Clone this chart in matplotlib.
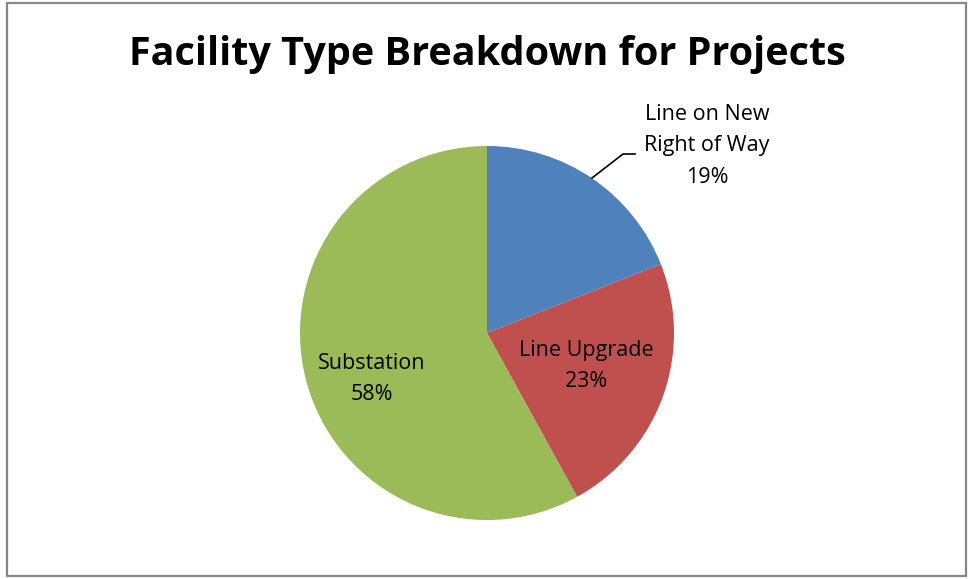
import matplotlib.pyplot as plt
from matplotlib.patches import Rectangle

# facility types and their share of projects (%)
categories = ["Line on New\nRight of Way", "Line Upgrade", "Substation"]
shares = [19, 23, 58]
colors = ["#4F81BD", "#C0504D", "#9BBB59"]

W, H = 969, 579
fig = plt.figure(figsize=(W / 100, H / 100), dpi=100)
plt.rcParams["font.family"] = ["Open Sans", "DejaVu Sans"]

# gray frame around the whole chart
fig.patches.append(Rectangle((7 / W, 3 / H), 959 / W, 573 / H, transform=fig.transFigure,
                             fill=False, edgecolor="#878787", linewidth=1.6))

# pie centred at (487, 333) px with radius 187 px
cx, cy, r = 487, 333, 187
ax = fig.add_axes([(cx - r) / W, (H - cy - r) / H, 2 * r / W, 2 * r / H])
ax.pie(shares, colors=colors, startangle=90, counterclock=False, radius=1,
       wedgeprops=dict(linewidth=0))
ax.set_xlim(-1, 1)
ax.set_ylim(-1, 1)
ax.set_aspect("equal")
ax.axis("off")

def px(x, y):
    return (x - cx) / r, (cy - y) / r

label_pos = [(707, 146), (586, 366), (372, 379)]
for cat, val, (lx, ly) in zip(categories, shares, label_pos):
    ax.text(*px(lx, ly), f"{cat}\n{val}%", ha="center", va="center",
            fontsize=15.5, linespacing=1.65, color="black")

# leader line for the small slice
pts = [px(592, 178), px(623, 154), px(635, 154)]
ax.plot([p[0] for p in pts], [p[1] for p in pts], color="black", lw=1.2, clip_on=False)

fig.text(487 / W, 1 - 55 / H, "Facility Type Breakdown for Projects",
         ha="center", va="center", fontsize=28.5, fontweight="bold")

fig.savefig("out.png", dpi=100)
